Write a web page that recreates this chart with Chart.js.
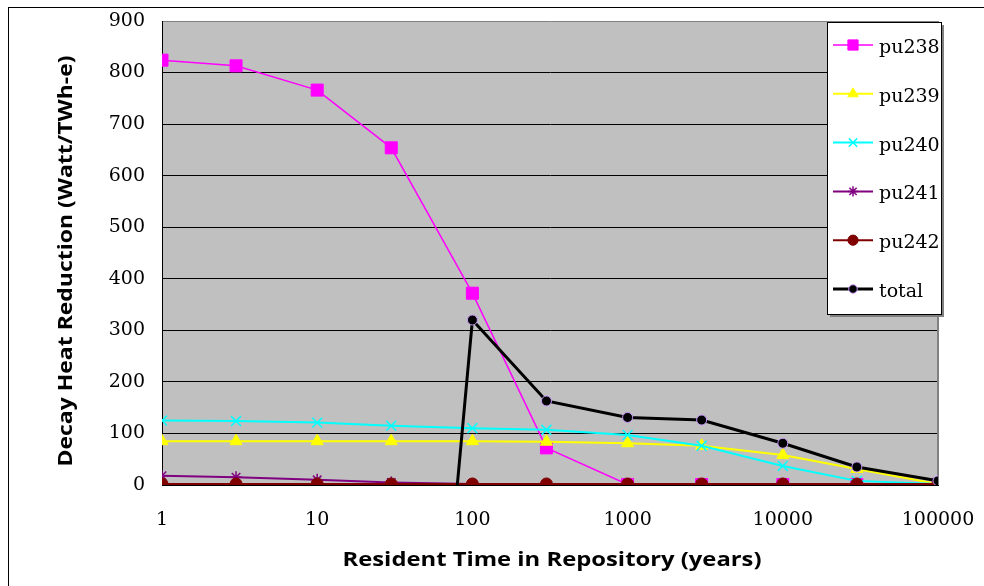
<!DOCTYPE html>
<html>
<head>
<meta charset="utf-8">
<script src="https://cdn.jsdelivr.net/npm/chart.js@4.4.0/dist/chart.umd.min.js"></script>
<style>
  body { margin: 0; background: #fff; }
  #wrap { width: 984px; height: 586px; }
</style>
</head>
<body>
<div id="wrap"><canvas id="decay" width="984" height="586"></canvas></div>
<script>
// resident time (years) and decay heat reduction per isotope (Watt/TWh-e)
var years = [1, 3, 10, 30, 100, 300, 1000, 3000, 10000, 30000, 100000];
var xTicks = [1, 10, 100, 1000, 10000, 100000];
var pu238 = [824, 813, 766, 654, 372, 72, 1, 1, 1, 1, 1];
var pu239 = [85, 85, 85, 85, 85, 84, 81, 76, 58, 31, 2];
var pu240 = [125, 124, 121, 115, 110, 107, 97, 76, 37, 8, 2];
var pu241 = [18, 15, 10, 5, 2, 1, 1, 1, 1, 1, 1];
var pu242 = [2, 2, 2, 2, 2, 2, 2, 2, 2, 2, 2];
var total = [null, null, null, -1400, 320, 163, 131, 126, 81, 35, 8];

function pairs(vals) {
  return years.map(function(x, i) { return {x: x, y: vals[i]}; });
}

function series(label, vals, color, width, style, radius, fill, border, order) {
  return {
    label: label,
    data: pairs(vals),
    borderColor: color,
    borderWidth: width,
    pointStyle: style,
    pointRadius: radius,
    pointBackgroundColor: fill,
    pointBorderColor: border,
    pointBorderWidth: style === 'crossRot' || style === 'star' ? 1.5 : 1,
    tension: 0,
    order: order
  };
}

// bold title stretched to the width it has in the original
function title(ctx, text, w) {
  ctx.font = 'bold 19px "Open Sans"';
  var k = w / ctx.measureText(text).width;
  ctx.scale(k, 1);
  ctx.fillText(text, 0, 0);
}

// plot background, outer frame, axis titles and the boxed legend
var decor = {
  id: 'decor',
  beforeDraw: function(chart) {
    var ctx = chart.ctx, a = chart.chartArea;
    ctx.save();
    ctx.fillStyle = '#fff';
    ctx.fillRect(0, 0, chart.width, chart.height);
    ctx.strokeStyle = '#000';
    ctx.lineWidth = 1;
    ctx.strokeRect(8.5, 7.5, chart.width, chart.height);
    ctx.fillStyle = '#C0C0C0';
    ctx.fillRect(a.left, a.top, a.right - a.left, a.bottom - a.top);
    ctx.restore();
  },
  beforeDatasetsDraw: function(chart) {
    var ctx = chart.ctx, a = chart.chartArea;
    ctx.save();
    ctx.strokeStyle = '#808080';
    ctx.lineWidth = 2;
    ctx.beginPath();
    ctx.moveTo(a.right, a.top);
    ctx.lineTo(a.right, a.bottom);
    ctx.stroke();
    ctx.restore();
  },
  afterDraw: function(chart) {
    var ctx = chart.ctx;
    ctx.save();
    ctx.fillStyle = '#000';
    ctx.textAlign = 'center';
    ctx.textBaseline = 'middle';
    ctx.translate(552, 561);
    title(ctx, 'Resident Time in Repository (years)', 419);
    ctx.restore();
    ctx.save();
    ctx.fillStyle = '#000';
    ctx.textAlign = 'center';
    ctx.textBaseline = 'middle';
    ctx.translate(67, 261);
    ctx.rotate(-Math.PI / 2);
    title(ctx, 'Decay Heat Reduction (Watt/TWh-e)', 411);
    ctx.restore();

    // legend box
    var bx = 827, by = 22, bw = 114, bh = 292;
    ctx.save();
    ctx.fillStyle = '#808080';
    ctx.fillRect(bx + 3, by + 3, bw, bh);
    ctx.fillStyle = '#fff';
    ctx.fillRect(bx, by, bw, bh);
    ctx.strokeStyle = '#000';
    ctx.lineWidth = 1;
    ctx.strokeRect(bx + 0.5, by + 0.5, bw, bh);
    chart.data.datasets.forEach(function(ds, i) {
      var y = by + 23 + i * 48.8;
      ctx.strokeStyle = ds.borderColor;
      ctx.lineWidth = ds.borderWidth;
      ctx.beginPath();
      ctx.moveTo(833, y);
      ctx.lineTo(873, y);
      ctx.stroke();
      ctx.fillStyle = ds.pointBackgroundColor;
      ctx.strokeStyle = ds.pointBorderColor;
      ctx.lineWidth = ds.pointBorderWidth;
      Chart.helpers.drawPoint(ctx, {
        pointStyle: ds.pointStyle, radius: ds.pointRadius * 0.85,
        rotation: 0, borderWidth: ds.pointBorderWidth
      }, 853, y);
      ctx.fillStyle = '#000';
      ctx.font = '19px "DejaVu Serif"';
      ctx.textAlign = 'left';
      ctx.textBaseline = 'middle';
      ctx.fillText(ds.label, 879, y + 3);
    });
    ctx.restore();
  }
};

var serif = {family: 'DejaVu Serif', size: 19};

new Chart('decay', {
  type: 'line',
  plugins: [decor],
  data: {
    datasets: [
      series('pu238', pu238, '#FF00FF', 1.5, 'rect', 8.5, '#FF00FF', '#FF00FF', 5),
      series('pu239', pu239, '#FFFF00', 2, 'triangle', 7, '#FFFF00', '#FFFF00', 4),
      series('pu240', pu240, '#00FFFF', 2, 'crossRot', 7, '#00FFFF', '#00FFFF', 3),
      series('pu241', pu241, '#800080', 2, 'star', 6, '#800080', '#800080', 2),
      series('pu242', pu242, '#800000', 2, 'circle', 6, '#800000', '#800000', 1),
      series('total', total, '#000000', 3, 'circle', 5, '#000000', '#CC99FF', 0)
    ]
  },
  options: {
    responsive: false,
    animation: false,
    layout: { padding: { left: 8, top: 21, right: 46, bottom: 0 } },
    plugins: {
      legend: { display: false },
      tooltip: { enabled: false }
    },
    scales: {
      x: {
        type: 'logarithmic',
        min: 1,
        max: 100000,
        afterBuildTicks: function(s) { s.ticks = xTicks.map(function(v) { return {value: v}; }); },
        afterFit: function(s) { s.height = 101; },
        ticks: {
          autoSkip: false, maxRotation: 0, color: '#000', font: serif, padding: 0,
          callback: function(v) { return String(v); }
        },
        grid: { color: 'rgba(0,0,0,0)', drawTicks: true, tickLength: 24, tickColor: 'rgba(0,0,0,0)' },
        border: { color: '#000', width: 1 }
      },
      y: {
        min: 0,
        max: 900,
        afterFit: function(s) { s.width = 154; },
        ticks: { stepSize: 100, color: '#000', font: serif, padding: 0 },
        grid: {
          drawTicks: true,
          tickLength: 17,
          tickColor: 'rgba(0,0,0,0)',
          color: function(c) { return c.tick && c.tick.value === 900 ? '#808080' : '#000'; }
        },
        border: { color: '#000', width: 1 }
      }
    }
  }
});
</script>
</body>
</html>
